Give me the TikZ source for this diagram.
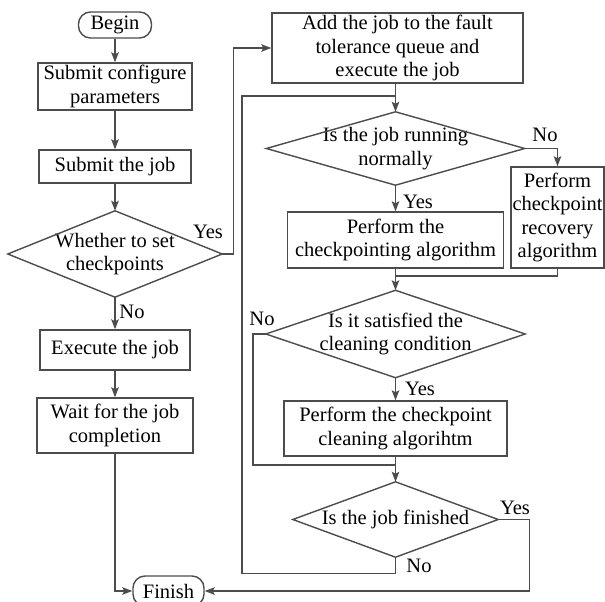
\documentclass[tikz,border=0pt]{standalone}
\usepackage{fontspec}
\setmainfont{Liberation Serif}
\usetikzlibrary{arrows.meta}
\newcommand\figfont{\fontsize{20.5}{23.5}\selectfont}
\begin{document}
\begin{tikzpicture}[x=1pt,y=-1pt,
  ln/.style={draw=black!70, line width=1.4pt},
  arr/.style={ln,-{Stealth[length=10pt,width=7.5pt,inset=2pt]}},
  box/.style={draw=black!70, line width=1.4pt, rectangle, align=center, inner sep=0pt, font=\figfont},
  term/.style={box, rounded corners=12pt},
  dtext/.style={rectangle, align=center, inner sep=0pt, font=\figfont},
  lbl/.style={font=\figfont, inner sep=0pt}
]
\fill[white] (0,0) rectangle (605,602);
\useasboundingbox (0,0) rectangle (605,602);

% left column
\node[term, minimum width=73pt, minimum height=26pt] (begin) at (115,25) {Begin};
\node[box, minimum width=154pt, minimum height=47pt] (cfg) at (115,86.5) {Submit configure\\parameters};
\node[box, minimum width=152pt, minimum height=33pt] (submit) at (115,166.5) {Submit the job};
\node[dtext, minimum width=214pt, minimum height=86pt] (d1) at (115,254) {Whether to set\\checkpoints};
\node[box, minimum width=150pt, minimum height=40pt] (exec) at (115,350) {Execute the job};
\node[box, minimum width=156pt, minimum height=55pt] (wait) at (115,425.5) {Wait for the job\\completion};
\node[term, minimum width=71pt, minimum height=30pt] (finish) at (168.5,591) {Finish};

% right column
\node[box, minimum width=251pt, minimum height=70pt] (add) at (397.5,48) {Add the job to the fault\\tolerance queue and\\execute the job};
\node[dtext, minimum width=258pt, minimum height=73pt] (d2) at (395.5,148.5) {Is the job running\\normally};
\node[box, minimum width=93pt, minimum height=101pt] (rec) at (557.5,217.5) {Perform\\checkpoint\\recovery\\algorithm};
\node[box, minimum width=216pt, minimum height=56pt] (chk) at (395.5,240) {Perform the\\checkpointing algorithm};
\node[dtext, minimum width=259pt, minimum height=87pt] (d3) at (395.5,334) {Is it satisfied the\\cleaning condition};
\node[box, minimum width=223pt, minimum height=55pt] (clean) at (395.5,428.5) {Perform the checkpoint\\cleaning algorihtm};
\node[dtext, minimum width=205pt, minimum height=75pt] (d4) at (395.5,519.5) {Is the job finished};

% diamond outlines
\foreach \d in {d1,d2,d3,d4}{
  \draw[ln] (\d.north) -- (\d.east) -- (\d.south) -- (\d.west) -- cycle;
}

% coordinates for joins
\coordinate (m0) at (395.5,96);
\coordinate (m0l) at (242,96);
\coordinate (m1) at (395.5,276);
\coordinate (m2) at (395.5,465);

% connectors left
\draw[arr] (begin) -- (cfg);
\draw[arr] (cfg) -- (submit);
\draw[arr] (submit) -- (d1.north);
\draw[arr] (d1.south) -- (exec);
\draw[arr] (exec) -- (wait);
\draw[arr] (wait.south) |- (finish.west);
\draw[arr] (d1.east) -- ++(11,0) |- (add.west);

% connectors right
\draw[arr] (add.south -| d2.north) -- (d2.north);
\draw[arr] (d2.east) -| (rec.north);
\draw[arr] (d2.south) -- (chk.north);
\draw[ln] (rec.south) |- (m1);
\draw[arr] (chk.south) -- (d3.north);
\draw[arr] (d3.south) -- (clean.north);
\draw[ln] (d3.west) -- ++(-13,0) |- (m2);
\draw[arr] (clean.south) -- (d4.north);
\draw[arr] (d4.east) -- ++(31,0) |- (finish.east);
\draw[ln] (d4.south) -- ++(0,16) -| (m0l) -- (m0);

% labels
\node[lbl] (y1) at (208,232) {Yes};
\node[lbl] (n1) at (132,312) {No};
\node[lbl] (n2) at (545,135) {No};
\node[lbl] (y2) at (418,202) {Yes};
\node[lbl] (n3) at (262,319) {No};
\node[lbl] (y3) at (420,389) {Yes};
\node[lbl] (y4) at (515,508) {Yes};
\node[lbl] (n4) at (419,566) {No};
\end{tikzpicture}
\end{document}
